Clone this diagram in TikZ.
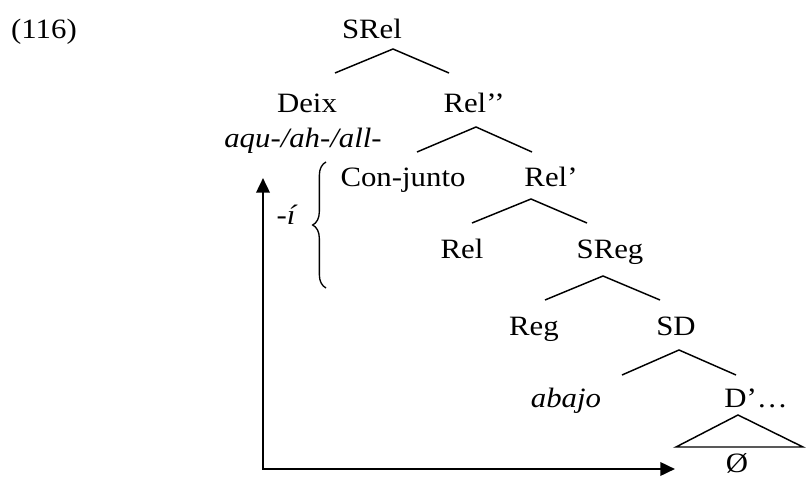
\documentclass[tikz,border=0pt]{standalone}
\usepackage{fontspec}
\setmainfont{Liberation Serif}[FakeStretch=1.1]
\usetikzlibrary{arrows.meta}
\usetikzlibrary{decorations.pathreplacing}

\begin{document}
\begin{tikzpicture}[
    x=0.75pt, y=-0.75pt,
    lbl/.style={anchor=base, inner sep=0pt, font=\fontsize{21}{25}\selectfont},
    roof/.style={line width=1.1pt},
    axis/.style={line width=1.9pt, line join=miter,
        {Triangle[length=11pt, width=10pt]}-{Triangle[length=11pt, width=10pt]}}
]
\useasboundingbox (0,0) rectangle (806,477);

% etiquetas
\node[lbl] (ex) at (44,39) {(116)};
\node[lbl] (SRel) at (372,39) {SRel};
\node[lbl] (Deix) at (307,113) {Deix};
\node[lbl] (Relpp) at (474,113) {Rel’’};
\node[lbl] (aqu) at (303,148) {\itshape aqu-/ah-/all-};
\node[lbl] (conj) at (403,187) {Con-junto};
\node[lbl] (Relp) at (551,187) {Rel’};
\node[lbl] (Rel) at (462,258) {Rel};
\node[lbl] (SReg) at (610,258) {SReg};
\node[lbl] (Reg) at (534,335) {Reg};
\node[lbl] (SD) at (676,335) {SD};
\node[lbl] (abajo) at (566,407) {\itshape abajo};
\node[lbl] (Dp) at (756,407) {D’…};
\node[lbl] (null) at (737,472) {Ø};
\node[lbl] (suf) at (286,225) {\itshape -í};

% ramas
\foreach \n/\ax/\ay/\lx/\rx/\ly in {SRel/393/49/335/449/73, Relpp/476/127/417/532/152,
    Relp/531/199/472/587/223, SReg/603/276/545/660/300, SD/679/350/622/736/375}{
  \coordinate (\n-top) at (\ax,\ay);
  \coordinate (\n-l) at (\lx,\ly);
  \coordinate (\n-r) at (\rx,\ly);
  \draw[roof] (\n-l) -- (\n-top) -- (\n-r);
}

% triangulo
\coordinate (tri-top) at (738,415);
\coordinate (tri-l) at (676,447);
\coordinate (tri-r) at (803,447);
\draw[roof] (tri-top) -- (tri-l) -- (tri-r) -- cycle;

% llave
\coordinate (br-b) at (326,288);
\coordinate (br-t) at (326,162);
\draw[line width=1pt, decorate, decoration={brace, amplitude=10pt}] (br-b) -- (br-t);

% flechas
\coordinate (up) at (263,178);
\coordinate (corner) at (263,469);
\coordinate (right) at (675,469);
\draw[axis] (up) -- (corner) -- (right);
\end{tikzpicture}
\end{document}
